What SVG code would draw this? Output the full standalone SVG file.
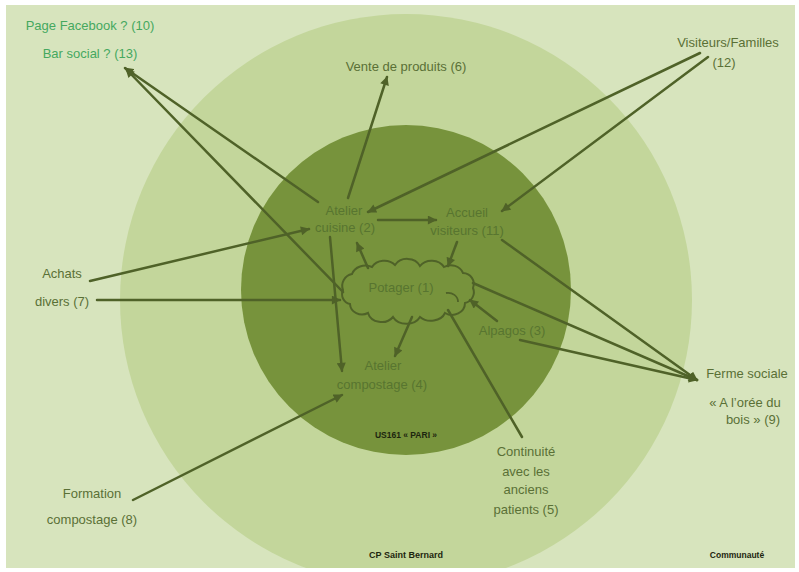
<svg xmlns="http://www.w3.org/2000/svg" width="799" height="572" viewBox="0 0 799 572">
<defs>
<style>
.t{font-family:"Liberation Sans",Arial,sans-serif;font-size:13px;text-anchor:middle}
.g{fill:#45a85f}
.o{fill:#5a7036}
.i{fill:#587530}
.b{font-family:"Liberation Sans",Arial,sans-serif;font-size:8.5px;font-weight:bold;text-anchor:middle;fill:#1d260f}
.c line{stroke:#4f6228;stroke-width:2.5;stroke-linecap:round}
.a{marker-end:url(#ah)}
</style>
<marker id="ah" viewBox="0 0 10 10" refX="9" refY="5" markerWidth="10" markerHeight="9" markerUnits="userSpaceOnUse" orient="auto">
<path d="M0,0 L10,5 L0,10 z" fill="#4f6228"/>
</marker>
<clipPath id="clip"><rect x="6" y="5" width="789" height="563"/></clipPath>
</defs>
<rect x="0" y="0" width="799" height="572" fill="#ffffff"/>
<g id="background" clip-path="url(#clip)">
<rect x="6" y="5" width="789" height="563" fill="#d7e4bd"/>
<circle id="ring-communaute" cx="406" cy="300" r="286" fill="#c3d69b"/>
<circle id="ring-us161" cx="406" cy="290" r="165" fill="#77933c"/>
</g>
<g id="zone-labels">
<text class="b" x="406" y="438">US161 « PARI »</text>
<text class="b" x="406" y="558" style="font-size:9px">CP Saint Bernard</text>
<text class="b" x="737" y="558">Communauté</text>
</g>
<g id="potager">
<path d="M343,290 A12,12 0 0 1 352,274 A14,12 0 0 1 372,267 A14,12 0 0 1 395,265 A14,12 0 0 1 420,266 A14,12 0 0 1 444,267 A13,12 0 0 1 463,273 A11,11 0 0 1 473,288 A11,11 0 0 1 465,303 A13,12 0 0 1 445,313 A15,12 0 0 1 420,317 A15,12 0 0 1 393,317 A14,12 0 0 1 368,313 A12,11 0 0 1 350,304 A10,10 0 0 1 343,290 Z" fill="#77933c" stroke="#4f6228" stroke-width="2"/>
<path d="M446,293 A10,9 0 0 1 458,302" fill="none" stroke="#4f6228" stroke-width="1.8"/>
<text class="t i" x="401" y="292">Potager (1)</text>
</g>
<g id="atelier-cuisine">
<text class="t i" x="344" y="215">Atelier</text>
<text class="t i" x="345" y="232">cuisine (2)</text>
</g>
<g id="accueil-visiteurs">
<text class="t i" x="467" y="217">Accueil</text>
<text class="t i" x="467" y="235">visiteurs (11)</text>
</g>
<g id="alpagos">
<text class="t i" x="512" y="335">Alpagos (3)</text>
</g>
<g id="atelier-compostage">
<text class="t i" x="383" y="370">Atelier</text>
<text class="t i" x="382" y="389">compostage (4)</text>
</g>
<g id="continuite">
<text class="t o" x="526" y="456">Continuité</text>
<text class="t o" x="526" y="476">avec les</text>
<text class="t o" x="526" y="494">anciens</text>
<text class="t o" x="526" y="514">patients (5)</text>
</g>
<g id="vente-produits">
<text class="t o" x="406" y="71">Vente de produits (6)</text>
</g>
<g id="achats-divers">
<text class="t o" x="62" y="278">Achats</text>
<text class="t o" x="62" y="306">divers (7)</text>
</g>
<g id="formation-compostage">
<text class="t o" x="92" y="498">Formation</text>
<text class="t o" x="92" y="524">compostage (8)</text>
</g>
<g id="ferme-sociale">
<text class="t o" x="747" y="378">Ferme sociale</text>
<text class="t o" x="745" y="407">« A l’orée du</text>
<text class="t o" x="753" y="424">bois » (9)</text>
</g>
<g id="page-facebook">
<text class="t g" x="90" y="30">Page Facebook ? (10)</text>
</g>
<g id="visiteurs-familles">
<text class="t o" x="728" y="47">Visiteurs/Familles</text>
<text class="t o" x="724" y="67">(12)</text>
</g>
<g id="bar-social">
<text class="t g" x="90" y="58">Bar social ? (13)</text>
</g>
<g id="connectors" class="c">
<line class="a" x1="318" y1="202" x2="125" y2="68"/>
<line class="a" x1="343" y1="292" x2="126" y2="69"/>
<line class="a" x1="348" y1="198" x2="387" y2="77"/>
<line class="a" x1="700" y1="53" x2="368" y2="212"/>
<line class="a" x1="708" y1="57" x2="502" y2="211"/>
<line class="a" x1="378" y1="220" x2="436" y2="220"/>
<line class="a" x1="90" y1="281" x2="309" y2="229"/>
<line class="a" x1="97" y1="300" x2="340" y2="300"/>
<line class="a" x1="330" y1="237" x2="342" y2="371"/>
<line class="a" x1="368" y1="268" x2="357" y2="243"/>
<line class="a" x1="457" y1="242" x2="448" y2="266"/>
<line class="a" x1="412" y1="317" x2="395" y2="356"/>
<line class="a" x1="497" y1="321" x2="470" y2="300"/>
<line x1="448" y1="310" x2="522" y2="437"/>
<line class="a" x1="502" y1="240" x2="697" y2="380"/>
<line class="a" x1="473" y1="283" x2="697" y2="380"/>
<line class="a" x1="520" y1="340" x2="697" y2="380"/>
<line class="a" x1="133" y1="500" x2="342" y2="395"/>
</g>
</svg>
